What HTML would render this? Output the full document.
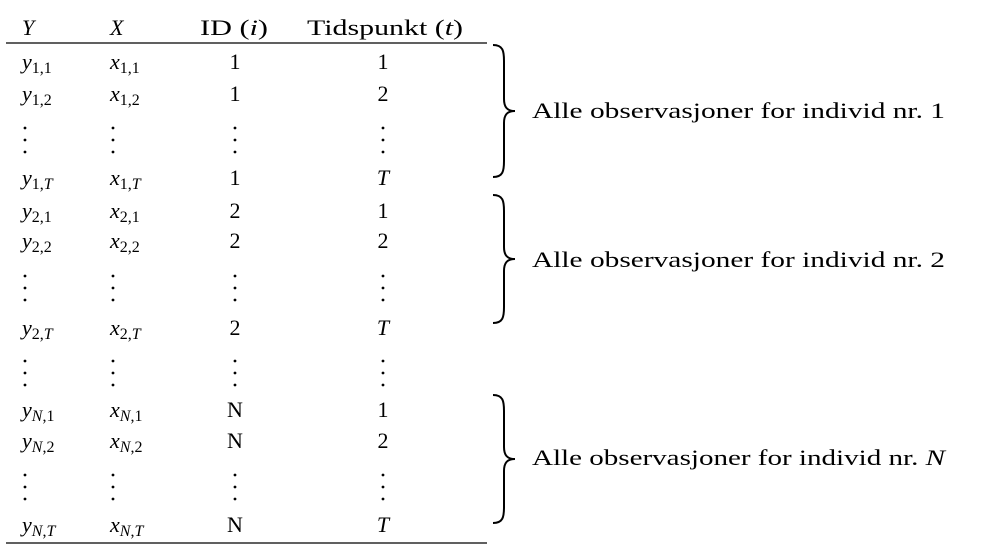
<!DOCTYPE html>
<html><head><meta charset="utf-8"><style>
body{margin:0;background:#fff;width:983px;height:560px;overflow:hidden}
svg{display:block}
text{font-family:"Liberation Serif",serif;fill:#000}
.it{font-style:italic}
</style></head><body>
<svg id="s" width="983" height="560">
<line x1="6" y1="43" x2="487" y2="43" stroke="#000" stroke-width="1.3"/>
<line x1="6" y1="543" x2="487" y2="543" stroke="#000" stroke-width="1.3"/>
<text x="22" y="35" font-size="22" class="it">Y</text>
<text x="110" y="35" font-size="22" class="it">X</text>
<text x="200" y="35" font-size="22" textLength="68" lengthAdjust="spacingAndGlyphs">ID (<tspan class="it">i</tspan>)</text>
<text x="307" y="35" font-size="22" textLength="156" lengthAdjust="spacingAndGlyphs">Tidspunkt (<tspan class="it">t</tspan>)</text>
</svg>
<script>
const rowBaselines=[69,101,null,185,218,248,null,335,null,417,448,null,532];
const dotsCenters=[140,288,373,487];
const idxI=['1','1',null,'1','2','2',null,'2',null,'N','N',null,'N'];
const idxT=['1','2',null,'T','1','2',null,'T',null,'1','2',null,'T'];
const groupLabels=['1','2','N'];
const groupTops=[45,195,395];
const groupBottoms=[177,323,523];
const groupBaselines=[118,267,465];
const NS='http://www.w3.org/2000/svg';
const s=document.getElementById('s');
function mk(tag,attrs){const e=document.createElementNS(NS,tag);for(const k in attrs)e.setAttribute(k,attrs[k]);s.appendChild(e);return e;}
function sub(t,letter,i,tt){
  const a=document.createElementNS(NS,'tspan');a.textContent=letter;a.setAttribute('class','it');t.appendChild(a);
  const b=document.createElementNS(NS,'tspan');b.setAttribute('font-size','16');b.setAttribute('dy','4');
  const bi=document.createElementNS(NS,'tspan');bi.textContent=i;if(i==='N')bi.setAttribute('class','it');b.appendChild(bi);
  const c=document.createElementNS(NS,'tspan');c.textContent=',';b.appendChild(c);
  const d=document.createElementNS(NS,'tspan');d.textContent=tt;if(tt==='T')d.setAttribute('class','it');b.appendChild(d);
  t.appendChild(b);
}
let di=0;
rowBaselines.forEach((y,r)=>{
  if(y===null){
    const cy=dotsCenters[di++];
    [25,113,235,383].forEach(x=>{
      for(let k=-1;k<=1;k++){
        const c=mk('circle',{cx:x,cy:cy+k*12,r:1.4,fill:'#000'});
        
        
      }
    });
    return;
  }
  const t1=mk('text',{x:22,y:y,'font-size':22});
  
  
  sub(t1,'y',idxI[r],idxT[r]);
  const t2=mk('text',{x:110,y:y,'font-size':22});
  
  
  sub(t2,'x',idxI[r],idxT[r]);
  const t3=mk('text',{x:235,y:y,'font-size':22,'text-anchor':'middle'});
  
  
  t3.textContent=idxI[r];
  const t4=mk('text',{x:383,y:y,'font-size':22,'text-anchor':'middle'});
  
  
  if(idxT[r]==='T')t4.setAttribute('class','it');
  t4.textContent=idxT[r];
});
groupLabels.forEach((g,i)=>{
  const x0=493,y1=groupTops[i],y2=groupBottoms[i],m=(y1+y2)/2;
  const d=`M${x0} ${y1} C${x0+10} ${y1},${x0+11} ${y1+6},${x0+11} ${y1+16} L${x0+11} ${m-12} C${x0+11} ${m-4},${x0+14} ${m},${x0+22} ${m} C${x0+14} ${m},${x0+11} ${m+4},${x0+11} ${m+12} L${x0+11} ${y2-16} C${x0+11} ${y2-6},${x0+10} ${y2},${x0} ${y2}`;
  const p=mk('path',{d:d,fill:'none',stroke:'#000','stroke-width':2});
  
  
  const t=mk('text',{x:532,y:groupBaselines[i],'font-size':22,textLength:413,lengthAdjust:'spacingAndGlyphs'});
  
  
  t.appendChild(document.createTextNode('Alle observasjoner for individ nr. '));
  const n=document.createElementNS(NS,'tspan');n.textContent=g;if(g==='N')n.setAttribute('class','it');t.appendChild(n);
});
</script>
</body></html>
